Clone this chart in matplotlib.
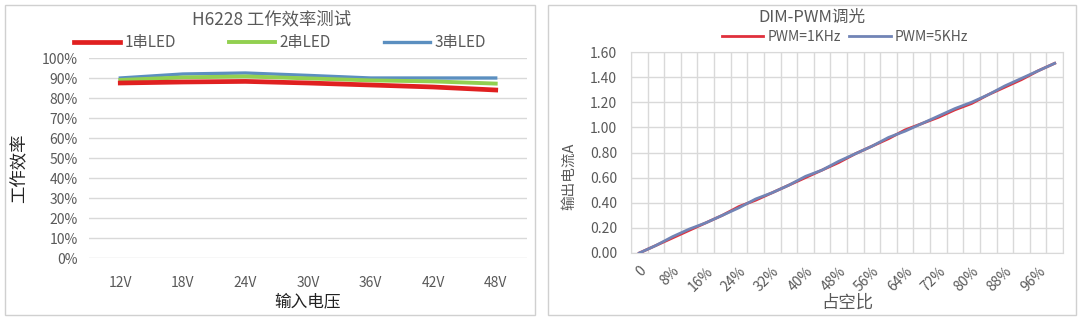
import numpy as np
import matplotlib
matplotlib.use('Agg')
import matplotlib.pyplot as plt
from matplotlib.patches import Rectangle

plt.rcParams['font.family'] = ['Noto Sans CJK SC', 'DejaVu Sans']

# Данные: левый график (КПД)
voltages = ['12V', '18V', '24V', '30V', '36V', '42V', '48V']
eff_1 = [87.5, 88.0, 88.3, 87.5, 86.5, 85.5, 84.0]
eff_2 = [89.0, 90.3, 90.8, 89.8, 88.8, 88.3, 87.2]
eff_3 = [90.0, 92.0, 92.5, 91.3, 90.0, 90.0, 90.0]

# Данные: правый график (ШИМ-диммирование)
duty = list(range(0, 101, 4))
pwm_1k = [0.00, 0.06, 0.12, 0.18, 0.24, 0.30, 0.37, 0.42, 0.48, 0.54, 0.60, 0.66, 0.72,
          0.79, 0.85, 0.91, 0.98, 1.03, 1.08, 1.14, 1.19, 1.26, 1.32, 1.38, 1.45, 1.51]
pwm_5k = [0.00, 0.06, 0.13, 0.19, 0.24, 0.30, 0.36, 0.43, 0.48, 0.54, 0.61, 0.66, 0.73,
          0.79, 0.85, 0.92, 0.97, 1.03, 1.09, 1.15, 1.20, 1.26, 1.33, 1.39, 1.45, 1.51]

W, H = 1080, 318
fig = plt.figure(figsize=(W / 100, H / 100), dpi=100)

grid_c = '#d9d9d9'
txt_c = '#595959'

# Рамки вокруг двух диаграмм
for x0, x1 in [(5, 535), (548, 1076)]:
    fig.add_artist(Rectangle((x0 / W, 3 / H), (x1 - x0) / W, 310 / H,
                             transform=fig.transFigure, fill=False,
                             edgecolor='#d0d0d0', lw=1))

# ---- Левый график ----
ax1 = fig.add_axes([89 / W, 1 - 258 / H, 438 / W, 200 / H])
xs = np.arange(len(voltages))
ax1.plot(xs, eff_1, color='#e02020', lw=3.4, label='1串LED', zorder=3)
ax1.plot(xs, eff_2, color='#92d050', lw=2.8, label='2串LED', zorder=2)
ax1.plot(xs, eff_3, color='#5b8fc0', lw=2.4, label='3串LED', zorder=1)
ax1.set_xlim(-0.5, len(voltages) - 0.5)
ax1.set_ylim(0, 100)
ax1.set_yticks(range(0, 101, 10))
ax1.set_yticklabels([f'{v}%' for v in range(0, 101, 10)])
ax1.set_xticks(xs)
ax1.set_xticklabels(voltages)
ax1.grid(axis='y', color=grid_c, lw=1)
ax1.set_axisbelow(True)
for s in ax1.spines.values():
    s.set_visible(False)
ax1.tick_params(length=0, labelsize=10, labelcolor=txt_c)
ax1.tick_params(axis='x', pad=13)
ax1.tick_params(axis='y', pad=8)
ax1.set_xlabel('输入电压', fontsize=12, color='#222222', labelpad=2)
ax1.set_ylabel('工作效率', fontsize=12.5, color='#222222')
ax1.yaxis.set_label_coords(-0.138, 0.45)
fig.text(272 / W, 1 - 19 / H, 'H6228 工作效率测试', ha='center', va='center',
         fontsize=12.5, color=txt_c)
ax1.legend(loc='center', bbox_to_anchor=(280 / W, 1 - 43 / H),
           bbox_transform=fig.transFigure, ncol=3, frameon=False,
           handlelength=3.0, columnspacing=3.5, fontsize=11,
           labelcolor=txt_c, handletextpad=0.3)

# ---- Правый график ----
ax2 = fig.add_axes([631 / W, 1 - 253 / H, 432 / W, 201 / H])
xd = np.arange(len(duty))
ax2.plot(xd, pwm_1k, color='#e0303c', lw=2.0, label='PWM=1KHz', zorder=3)
ax2.plot(xd, pwm_5k, color='#7184b6', lw=2.0, label='PWM=5KHz', zorder=4)
ax2.set_xlim(-0.5, len(duty) - 0.5)
ax2.set_ylim(0, 1.6)
ax2.set_yticks(np.arange(0, 1.61, 0.2))
ax2.set_yticklabels([f'{v:.2f}' for v in np.arange(0, 1.61, 0.2)])
ax2.set_xticks(np.arange(-0.5, len(duty), 1), minor=True)
lab_idx = xd[::2][:13]
ax2.set_xticks(lab_idx)
ax2.set_xticklabels(['0'] + [f'{duty[i]}%' for i in lab_idx[1:]],
                    rotation=45, ha='right', rotation_mode='anchor')
ax2.grid(which='minor', axis='x', color=grid_c, lw=1)
ax2.grid(which='major', axis='y', color=grid_c, lw=1)
ax2.set_axisbelow(True)
for s in ax2.spines.values():
    s.set_color(grid_c)
ax2.tick_params(which='both', length=0, labelsize=10, labelcolor=txt_c)
ax2.tick_params(axis='x', pad=8)
ax2.tick_params(axis='y', pad=10)
ax2.set_xlabel('占空比', fontsize=12.5, color=txt_c, labelpad=0)
ax2.set_ylabel('输出电流A', fontsize=10.5, color=txt_c)
ax2.yaxis.set_label_coords(-0.128, 0.38)
fig.text(812 / W, 1 - 17 / H, 'DIM-PWM调光', ha='center', va='center',
         fontsize=12, color=txt_c)
ax2.legend(loc='center', bbox_to_anchor=(845 / W, 1 - 37 / H),
           bbox_transform=fig.transFigure, ncol=2, frameon=False,
           handlelength=3.0, columnspacing=0.6, fontsize=10,
           labelcolor=txt_c, handletextpad=0.3)

fig.savefig('out.png', dpi=100, facecolor='white')
